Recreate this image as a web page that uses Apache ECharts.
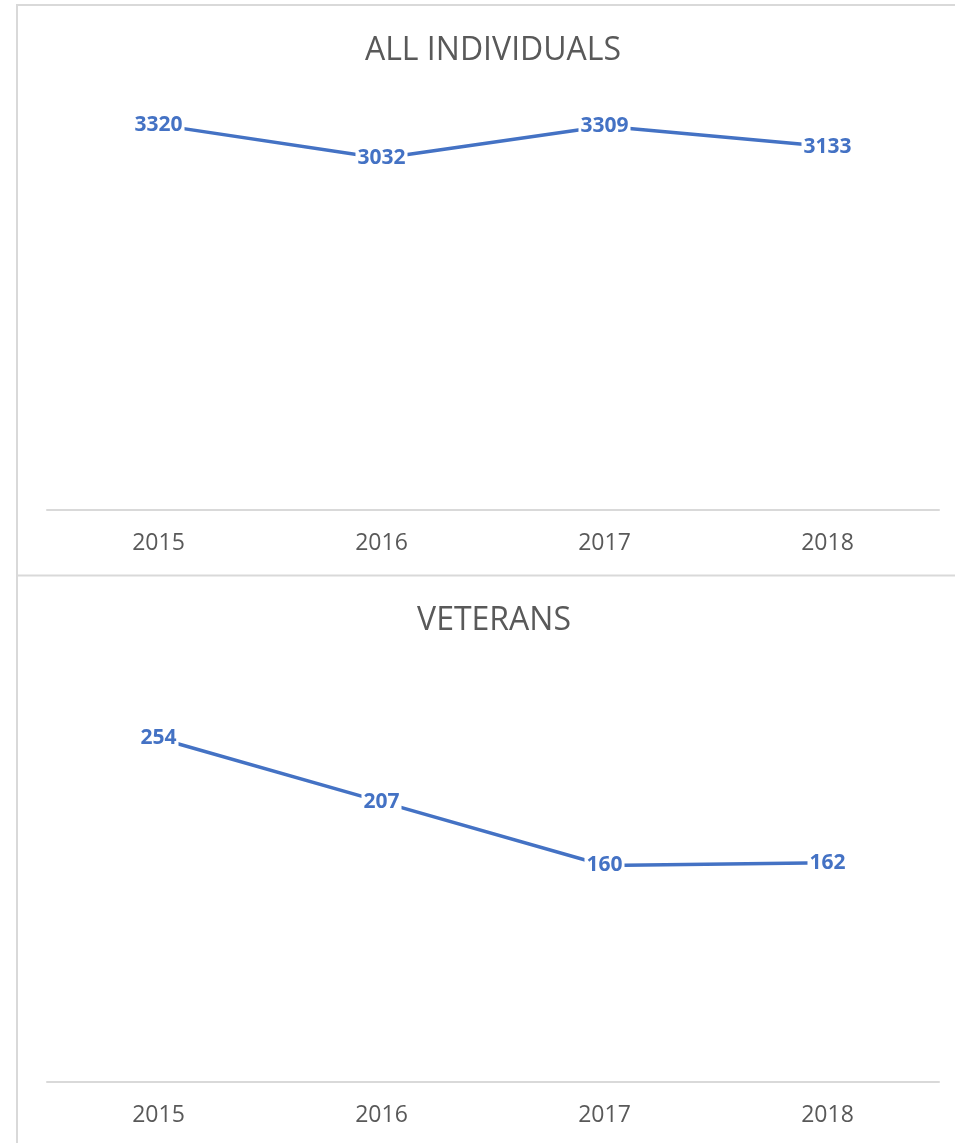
<!DOCTYPE html>
<html>
<head>
<meta charset="utf-8">
<script src="https://cdn.jsdelivr.net/npm/echarts@6/dist/echarts.min.js"></script>
<style>
html,body{margin:0;padding:0;background:#fff;}
#chart{width:955px;height:1143px;}
</style>
</head>
<body>
<div id="chart"></div>
<script>
const years = ['2015', '2016', '2017', '2018'];
const allIndividuals = [3320, 3032, 3309, 3133];
const veterans = [254, 207, 160, 162];
const titles = ['ALL INDIVIDUALS', 'VETERANS'];
const topMax = 3500;
const bottomMax = 300;

const chart = echarts.init(document.getElementById('chart'));
const font = '"Open Sans", "Liberation Sans", sans-serif';
const blue = '#4472C4';
const grey = '#595959';
const border = '#d9d9d9';

function xAxis(gridIndex) {
  return {
    type: 'category', gridIndex, data: years, boundaryGap: true,
    axisLine: {show: true, lineStyle: {color: border, width: 2}},
    axisTick: {show: false},
    axisLabel: {color: grey, fontSize: 23, fontFamily: font, margin: 22}
  };
}
function yAxis(gridIndex, max) {
  return {type: 'value', gridIndex, min: 0, max, show: false, splitLine: {show: false}};
}
function series(idx, data) {
  return {
    type: 'line', xAxisIndex: idx, yAxisIndex: idx, data,
    symbol: 'circle', symbolSize: 0, showSymbol: true,
    lineStyle: {color: blue, width: 3.5}, itemStyle: {color: blue},
    label: {
      show: true, position: 'inside', color: blue, fontSize: 21, fontWeight: 'bold',
      fontFamily: font, backgroundColor: '#fff', padding: [0, 2]
    },
    silent: true, animation: false
  };
}

chart.setOption({
  animation: false,
  grid: [
    {left: 47, right: 16, top: 104, bottom: 633},
    {left: 47, right: 16, top: 676, bottom: 61}
  ],
  xAxis: [xAxis(0), xAxis(1)],
  yAxis: [yAxis(0, topMax), yAxis(1, bottomMax)],
  series: [series(0, allIndividuals), series(1, veterans)],
  graphic: [
    {type: 'line', shape: {x1: 16, y1: 5, x2: 955, y2: 5}, style: {stroke: border, lineWidth: 2}},
    {type: 'line', shape: {x1: 17, y1: 4, x2: 17, y2: 1143}, style: {stroke: border, lineWidth: 2}},
    {type: 'line', shape: {x1: 17, y1: 575.5, x2: 955, y2: 575.5}, style: {stroke: border, lineWidth: 2}},
    {type: 'text', x: 493, y: 51, style: {text: titles[0], fill: grey, font: '32px ' + font, textAlign: 'center', textVerticalAlign: 'middle'}},
    {type: 'text', x: 494, y: 621, style: {text: titles[1], fill: grey, font: '32px ' + font, textAlign: 'center', textVerticalAlign: 'middle'}}
  ]
});
</script>
</body>
</html>
